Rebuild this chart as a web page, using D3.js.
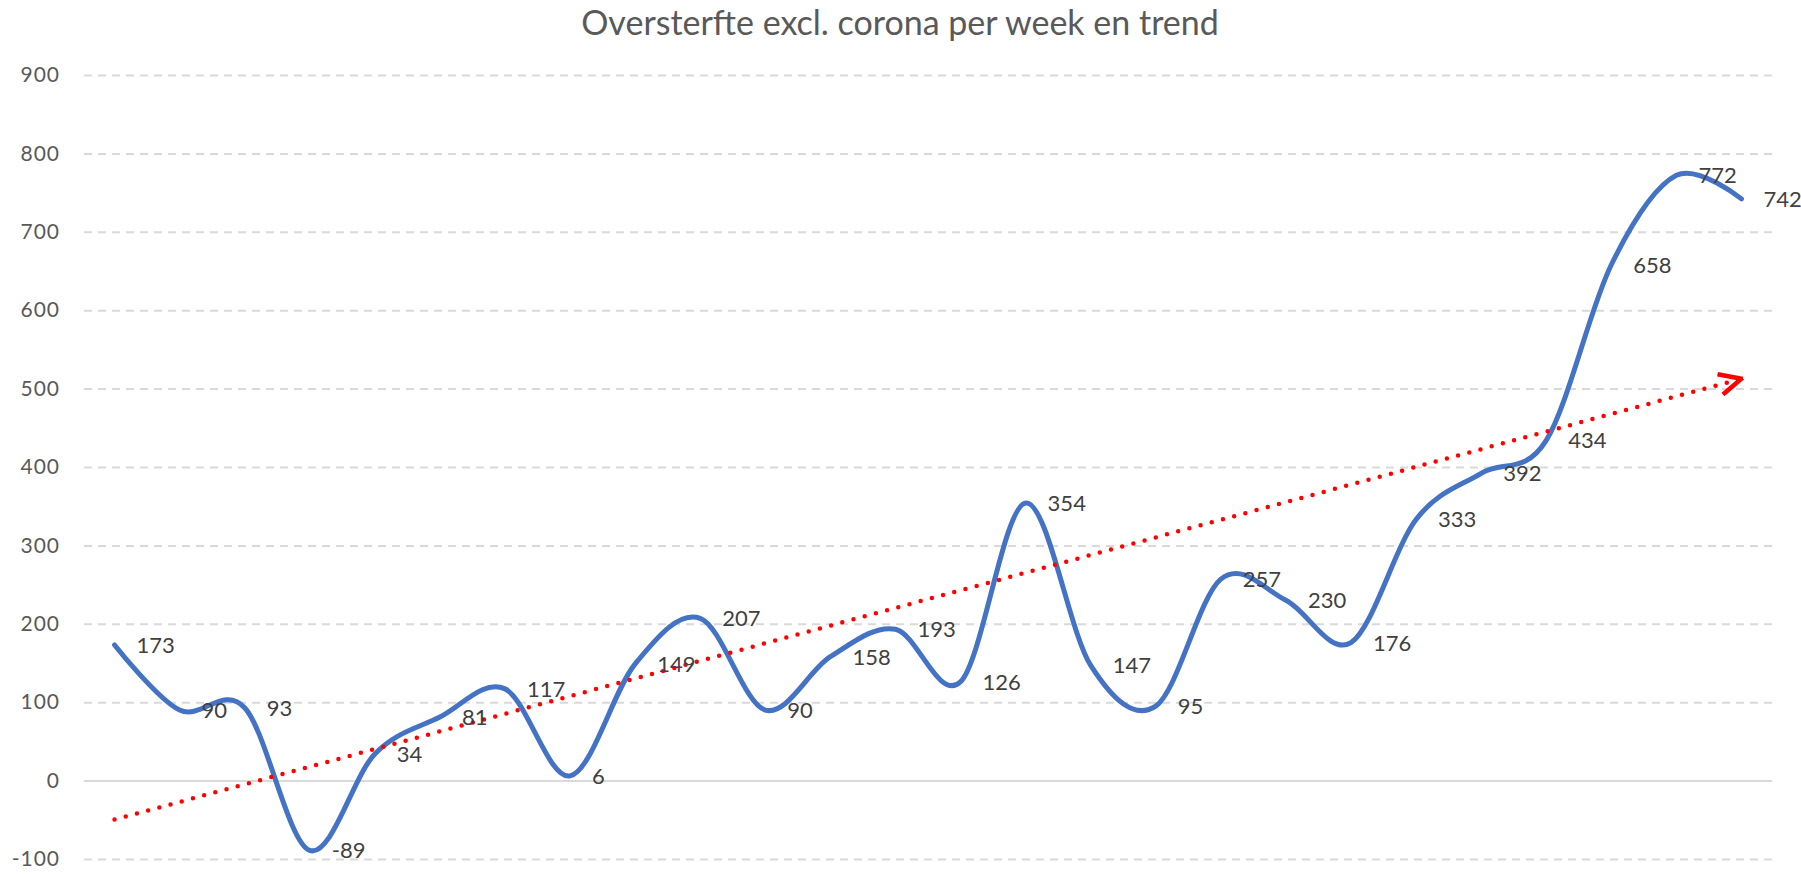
<!DOCTYPE html>
<html>
<head>
<meta charset="utf-8">
<script src="https://cdnjs.cloudflare.com/ajax/libs/d3/7.8.5/d3.min.js"></script>
<style>
  html, body { margin: 0; padding: 0; background: #fff; }
  svg { display: block; font-family: Lato, "Open Sans", sans-serif; }
</style>
</head>
<body>
<section id="chart"></section>
<script>
// Week numbers (category axis, labels hidden in the original)
const weeks = ['1', '2', '3', '4', '5', '6', '7', '8', '9', '10', '11', '12', '13',
  '14', '15', '16', '17', '18', '19', '20', '21', '22', '23', '24', '25', '26'];
// Excess deaths excluding corona, per week
const excess = [173, 90, 93, -89, 34, 81, 117, 6, 149, 207, 90, 158, 193, 126,
  354, 147, 95, 257, 230, 176, 333, 392, 434, 658, 772, 742];
const yTicks = [-100, 0, 100, 200, 300, 400, 500, 600, 700, 800, 900];
const title = 'Oversterfte excl. corona per week en trend';

const Chart = (function (my) {
  my.width = 1801;
  my.height = 874;
  my.left = 84;
  my.right = 1772;

  my.svg = d3.select('section#chart')
    .append('svg')
    .attr('width', my.width)
    .attr('height', my.height);

  my.x = d3.scalePoint().domain(weeks).range([82, 1774]).padding(0.5);
  my.y = d3.scaleLinear().domain([-100, 900]).range([859, 75]);

  /**
   * Least squares trend over the weekly values (what Excel draws as linear trend)
   */
  const trend = function (values) {
    const n = values.length;
    const mx = d3.mean(values, function (d, i) { return i; });
    const mv = d3.mean(values);
    let sxy = 0, sxx = 0;
    values.forEach(function (v, i) {
      sxy += (i - mx) * (v - mv);
      sxx += (i - mx) * (i - mx);
    });
    const slope = sxy / sxx;
    return [mv - slope * mx, mv + slope * (n - 1 - mx)];
  };

  my.draw = function () {
    // Title
    my.svg.append('text')
      .attr('x', 900)
      .attr('y', 35)
      .attr('text-anchor', 'middle')
      .style('font-size', '34px')
      .style('fill', '#595959')
      .text(title);

    // Y axis with gridlines
    const axis = my.svg.append('g')
      .attr('transform', 'translate(' + my.left + ',0)')
      .call(d3.axisLeft(my.y)
        .tickValues(yTicks)
        .tickFormat(function (d) { return String(d); })
        .tickSize(-(my.right - my.left))
        .tickPadding(24));
    axis.select('.domain').remove();
    axis.selectAll('.tick line')
      .style('stroke', '#d9d9d9')
      .style('stroke-width', 2)
      .style('stroke-dasharray', function (d) { return d === 0 ? null : '8 6'; });
    axis.selectAll('.tick text')
      .style('font-family', 'Lato, "Open Sans", sans-serif')
      .style('font-size', '21px')
      .style('letter-spacing', '1px')
      .style('fill', '#595959');

    // Arrow head for the trend line
    my.svg.append('defs').append('marker')
      .attr('id', 'arrow')
      .attr('viewBox', '0 0 26 24')
      .attr('markerWidth', 26)
      .attr('markerHeight', 24)
      .attr('markerUnits', 'userSpaceOnUse')
      .attr('refX', 24)
      .attr('refY', 12)
      .attr('orient', 'auto')
      .append('path')
      .attr('d', 'M2,1.5 L24,12 L2,22.5')
      .style('fill', 'none')
      .style('stroke', '#ff0000')
      .style('stroke-width', 4.5)
      .style('stroke-dasharray', 'none');

    // Smoothed weekly line
    const line = d3.line()
      .x(function (d, i) { return my.x(weeks[i]); })
      .y(function (d) { return my.y(d); })
      .curve(d3.curveCardinal.tension(0));

    my.svg.append('path')
      .datum(excess)
      .attr('d', line)
      .style('fill', 'none')
      .style('stroke', '#4472c4')
      .style('stroke-width', 5)
      .style('stroke-linecap', 'round');

    // Dotted red trend line
    const ends = trend(excess);
    my.svg.append('line')
      .attr('x1', my.x(weeks[0]))
      .attr('y1', my.y(ends[0]))
      .attr('x2', my.x(weeks[weeks.length - 1]))
      .attr('y2', my.y(ends[1]))
      .style('stroke', '#ff0000')
      .style('stroke-width', 4.5)
      .style('stroke-linecap', 'round')
      .style('stroke-dasharray', '0 11.6')
      .attr('marker-end', 'url(#arrow)');

    // Data labels, placed right of each point
    my.svg.append('g').selectAll('text')
      .data(excess)
      .enter().append('text')
      .attr('x', function (d, i) { return my.x(weeks[i]) + 22; })
      .attr('y', function (d) { return my.y(d); })
      .attr('dy', '0.36em')
      .style('font-size', '22px')
      .style('fill', '#404040')
      .text(function (d) { return d; });
  };

  return my;
})({});

Chart.draw();
</script>
</body>
</html>
